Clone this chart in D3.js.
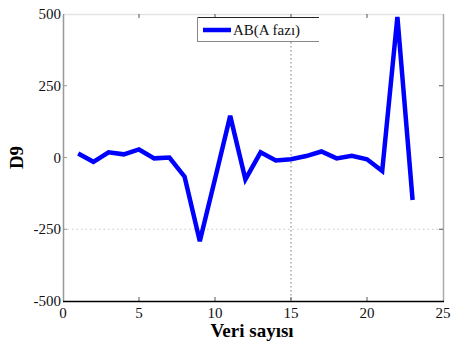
<!DOCTYPE html>
<html>
<head>
<meta charset="utf-8">
<script src="https://cdnjs.cloudflare.com/ajax/libs/d3/7.8.5/d3.min.js"></script>
<style>
  html, body { margin: 0; padding: 0; background: #fff; }
  svg { display: block; }
  svg text { font-family: "Liberation Serif", "DejaVu Serif", serif; }
</style>
</head>
<body>
<svg id="chart" width="452" height="349"></svg>
<script>
// Sample index and D9 values for phase A (AB)
const sampleIndex = [1, 2, 3, 4, 5, 6, 7, 8, 9, 10, 11, 12, 13, 14, 15, 16, 17, 18, 19, 20, 21, 22, 23];
const d9Values = [14, -15, 18, 11, 28, -3, 0, -67, -292, -75, 145, -76, 18, -10, -6, 5, 21, -3, 6, -6, -47, 490, -148];
const seriesName = "AB(A fazı)";

const xTicks = [0, 5, 10, 15, 20, 25];
const yTicks = [-500, -250, 0, 250, 500];
const xGridAt = [15];
const yGridAt = [-250];

(function () {
  const svg = d3.select("#chart");
  const serif = "Liberation Serif";
  const pl = 63, pr = 443, pt = 14, pb = 301;

  const x = d3.scaleLinear().domain([0, 25]).range([pl, pr]);
  const y = d3.scaleLinear().domain([-500, 500]).range([pb, pt]);

  // dotted grid lines
  svg.selectAll(".gx").data(xGridAt).enter().append("line")
    .attr("x1", d => x(d)).attr("x2", d => x(d))
    .attr("y1", pt).attr("y2", pb)
    .attr("stroke", "#777").attr("stroke-width", 1).attr("stroke-dasharray", "1.5,2.5");
  svg.selectAll(".gy").data(yGridAt).enter().append("line")
    .attr("x1", pl).attr("x2", pr)
    .attr("y1", d => y(d)).attr("y2", d => y(d))
    .attr("stroke", "#c8c8c8").attr("stroke-width", 1).attr("stroke-dasharray", "1.5,3");

  // frame
  svg.append("line").attr("x1", pl).attr("x2", pr).attr("y1", pt + 0.5).attr("y2", pt + 0.5)
    .attr("stroke", "#e4e4e4").attr("stroke-width", 1.5);
  svg.append("line").attr("x1", pr + 0.5).attr("x2", pr + 0.5).attr("y1", pt).attr("y2", pb)
    .attr("stroke", "#aaa").attr("stroke-width", 1.5);
  svg.append("line").attr("x1", pl + 0.5).attr("x2", pl + 0.5).attr("y1", pt).attr("y2", pb)
    .attr("stroke", "#999").attr("stroke-width", 1.5);

  // inner ticks
  const tickLen = 4;
  svg.selectAll(".tb").data(xTicks.slice(1, -1)).enter().append("line")
    .attr("x1", d => x(d)).attr("x2", d => x(d))
    .attr("y1", pb).attr("y2", pb - tickLen)
    .attr("stroke", "#555").attr("stroke-width", 1);
  svg.selectAll(".tt").data(xTicks.slice(1, -1)).enter().append("line")
    .attr("x1", d => x(d)).attr("x2", d => x(d))
    .attr("y1", pt).attr("y2", pt + tickLen)
    .attr("stroke", "#555").attr("stroke-width", 1);
  svg.selectAll(".tr").data(yTicks.slice(1, -1)).enter().append("line")
    .attr("x1", pr).attr("x2", pr - tickLen)
    .attr("y1", d => y(d)).attr("y2", d => y(d))
    .attr("stroke", "#555").attr("stroke-width", 1);
  svg.selectAll(".tl").data(yTicks.slice(1, -1)).enter().append("line")
    .attr("x1", pl).attr("x2", pl + tickLen)
    .attr("y1", d => y(d)).attr("y2", d => y(d))
    .attr("stroke", "#999").attr("stroke-width", 1);

  // bottom axis line
  svg.append("line").attr("x1", pl).attr("x2", pr + 1).attr("y1", pb + 0.5).attr("y2", pb + 0.5)
    .attr("stroke", "#000").attr("stroke-width", 1.5);

  // tick labels
  svg.selectAll(".xl").data(xTicks).enter().append("text")
    .attr("x", d => x(d)).attr("y", pb + 17)
    .attr("font-family", serif)
    .attr("text-anchor", "middle").attr("font-size", 15).attr("fill", "#111")
    .text(d => d);
  svg.selectAll(".yl").data(yTicks).enter().append("text")
    .attr("x", pl - 2).attr("y", d => y(d) + 5)
    .attr("font-family", serif)
    .attr("text-anchor", "end").attr("font-size", 15).attr("fill", "#111")
    .text(d => d);

  // axis titles
  svg.append("text").attr("x", 252).attr("y", 337)
    .attr("font-family", serif)
    .attr("text-anchor", "middle").attr("font-size", 19).attr("font-weight", "bold")
    .text("Veri sayısı");
  svg.append("text").attr("transform", `translate(23,${y(0)}) rotate(-90)`)
    .attr("font-family", serif)
    .attr("text-anchor", "middle").attr("font-size", 19).attr("font-weight", "bold")
    .text("D9");

  // data line
  const line = d3.line().x((d, i) => x(sampleIndex[i])).y(d => y(d));
  svg.append("path").datum(d9Values)
    .attr("d", line)
    .attr("fill", "none").attr("stroke", "#0000ff").attr("stroke-width", 4.5)
    .attr("stroke-linejoin", "miter").attr("stroke-miterlimit", 4);

  // legend
  const lg = svg.append("g");
  lg.append("rect").attr("x", 197.5).attr("y", 17.5).attr("width", 121).attr("height", 24)
    .attr("fill", "#fff").attr("stroke", "none");
  lg.append("line").attr("x1", 197).attr("x2", 319).attr("y1", 17.5).attr("y2", 17.5).attr("stroke", "#222");
  lg.append("line").attr("x1", 197).attr("x2", 319).attr("y1", 41.5).attr("y2", 41.5).attr("stroke", "#888");
  lg.append("line").attr("x1", 197.5).attr("x2", 197.5).attr("y1", 17).attr("y2", 42).attr("stroke", "#888");
  lg.append("line").attr("x1", 203).attr("x2", 231).attr("y1", 30).attr("y2", 30)
    .attr("stroke", "#0000ff").attr("stroke-width", 4.5);
  lg.append("text").attr("x", 233).attr("y", 35)
    .attr("font-family", serif).attr("font-size", 15).attr("fill", "#111")
    .text(seriesName);
})();
</script>
</body>
</html>
